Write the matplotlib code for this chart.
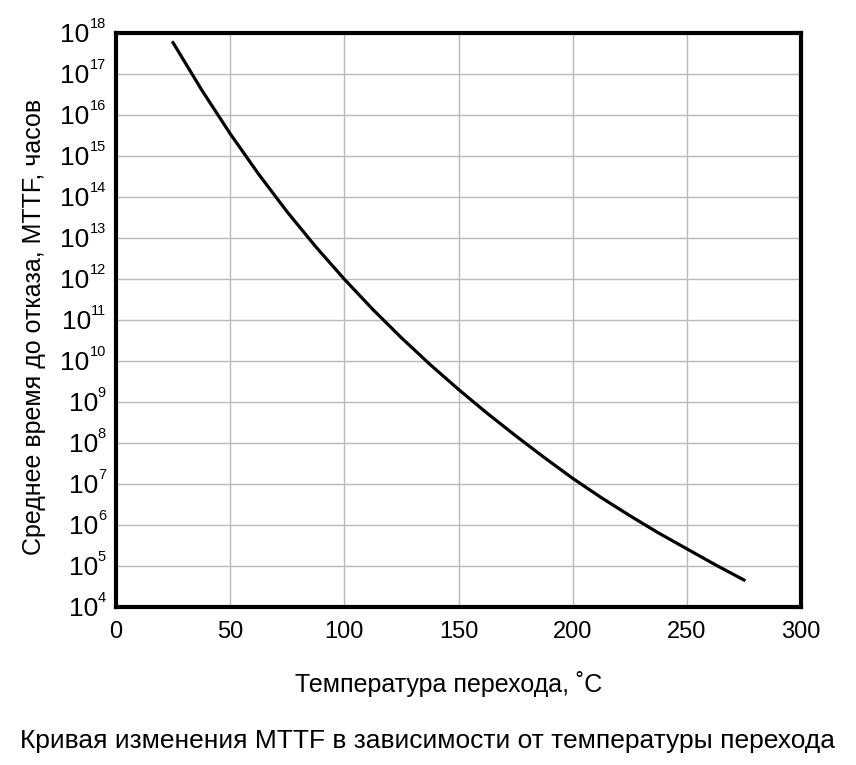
import matplotlib
matplotlib.use("Agg")
import matplotlib.pyplot as plt
from matplotlib.ticker import FixedLocator, NullLocator
from matplotlib.transforms import offset_copy

plt.rcParams['font.family'] = ['Liberation Sans', 'DejaVu Sans']

# температура перехода, °C
temperature = [25, 37.5, 50, 62.5, 75, 87.5, 100, 112.5, 125, 137.5, 150,
               162.5, 175, 187.5, 200, 212.5, 225, 237.5, 250, 262.5, 275]
# показатель степени MTTF (часы = 10**x)
mttf_exp = [17.77, 16.62, 15.55, 14.56, 13.64, 12.79, 12.00, 11.26, 10.57, 9.92, 9.31,
            8.73, 8.18, 7.65, 7.14, 6.67, 6.23, 5.81, 5.42, 5.03, 4.66]
mttf = [10 ** e for e in mttf_exp]

x_ticks = [0, 50, 100, 150, 200, 250, 300]
y_exps = list(range(4, 19))

fig = plt.figure(figsize=(8.56, 7.65), dpi=100)
ax = fig.add_axes([0.1355, 0.2065, 0.8003, 0.75])

ax.plot(temperature, mttf, color='black', lw=2.3, solid_joinstyle='round')

ax.set_yscale('log')
ax.set_xlim(0, 300)
ax.set_ylim(1e4, 1e18)
ax.xaxis.set_major_locator(FixedLocator(x_ticks))
ax.yaxis.set_major_locator(FixedLocator([10.0 ** e for e in y_exps]))
ax.yaxis.set_minor_locator(NullLocator())
ax.set_yticklabels([])

ax.grid(True, color='#b9b9b9', lw=1)
ax.set_axisbelow(True)
for s in ax.spines.values():
    s.set_linewidth(3)
    s.set_color('black')

ax.tick_params(axis='both', length=0, labelsize=17, colors='black')
ax.tick_params(axis='x', pad=10)

# подписи 10^n: показатель справа, "10" слева от него
fig.canvas.draw()
renderer = fig.canvas.get_renderer()
ax_x0 = ax.get_window_extent(renderer).x0
for e in y_exps:
    t_exp = ax.text(0, 10.0 ** e, str(e), fontsize=10.5, ha='right', va='center',
                    transform=offset_copy(ax.get_yaxis_transform(), fig=fig, x=-10, y=9, units='dots'))
    bb = t_exp.get_window_extent(renderer)
    ax.text(0, 10.0 ** e, '10', fontsize=19, ha='right', va='center',
            transform=offset_copy(ax.get_yaxis_transform(), fig=fig, x=bb.x0 - ax_x0, y=-2, units='dots'))

ax.set_ylabel('Среднее время до отказа, MTTF, часов', fontsize=18)
ax.yaxis.set_label_coords(-0.102, 0.488)
ax.set_xlabel('Температура перехода, ˚C', fontsize=18, va='top')
ax.xaxis.set_label_coords(0.485, -0.1115)

fig.text(0.5, 1 - 741 / 765, 'Кривая изменения MTTF в зависимости от температуры перехода',
         ha='center', va='center', fontsize=19)

fig.savefig('out.png', dpi=100)
